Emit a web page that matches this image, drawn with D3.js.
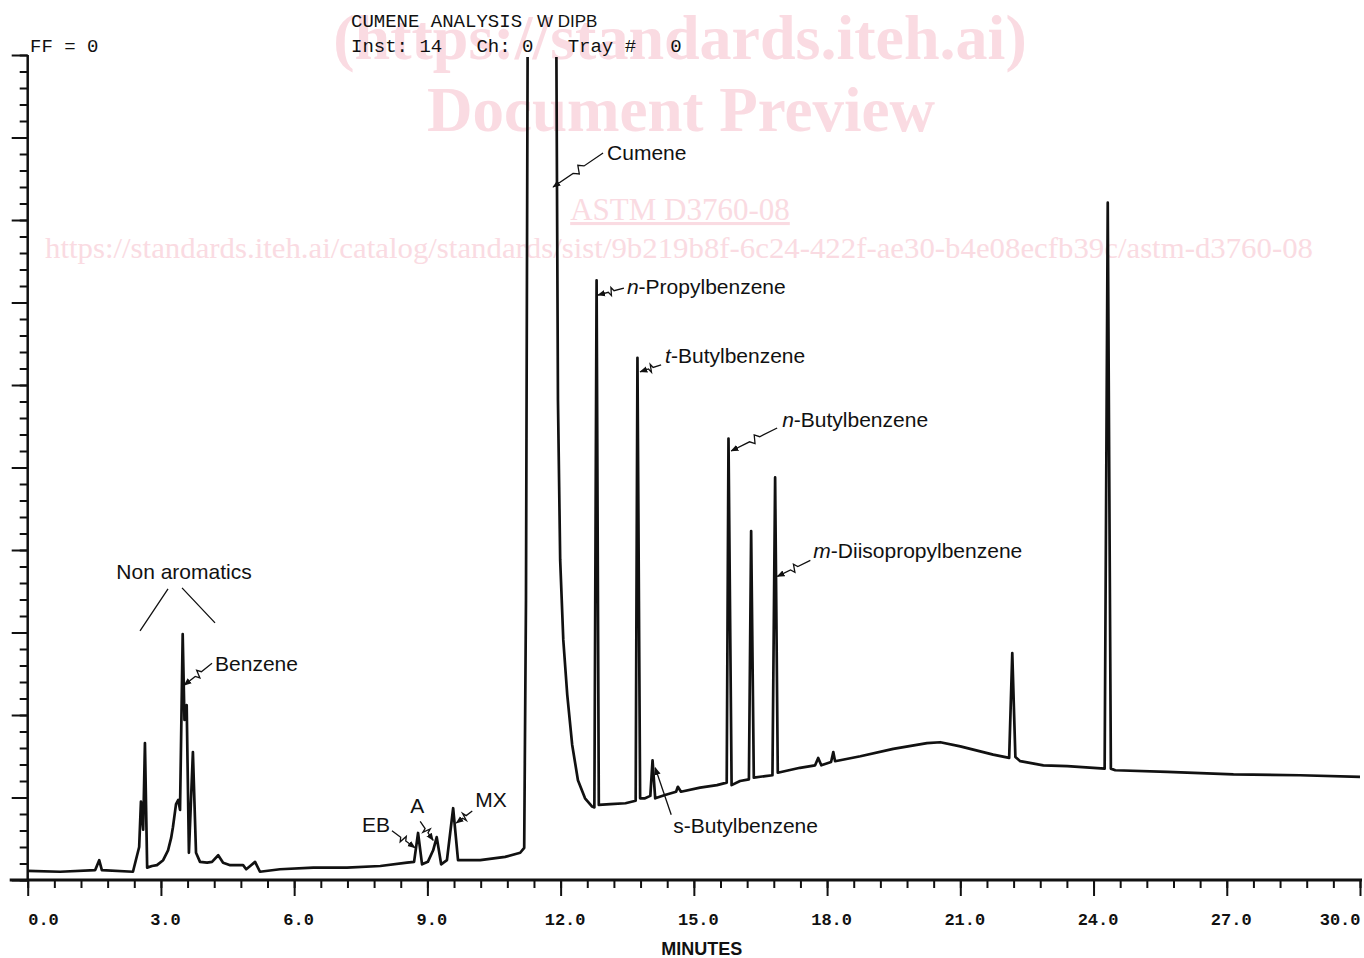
<!DOCTYPE html>
<html>
<head>
<meta charset="utf-8">
<script src="https://cdn.jsdelivr.net/npm/d3@7"></script>
<style>
  body { margin: 0; background: #fff; }
  svg { display: block; }
</style>
</head>
<body>
<svg id="chart" width="1364" height="958"></svg>
<script>
// chromatogram trace (minutes, % of full scale)
var retentionMin = [0.0, 0.73, 1.52, 1.61, 1.67, 2.37, 2.51, 2.55, 2.60, 2.64,
    2.69, 2.80, 2.91, 3.05, 3.16, 3.23, 3.27, 3.34, 3.39, 3.43,
    3.49, 3.53, 3.58, 3.63, 3.72, 3.79, 3.88, 4.04, 4.15, 4.29,
    4.40, 4.56, 4.85, 4.92, 5.01, 5.12, 5.23, 5.68, 6.43, 7.19,
    7.94, 8.54, 8.70, 8.79, 8.88, 9.01, 9.13, 9.21, 9.31, 9.44,
    9.58, 9.69, 10.19, 10.75, 11.09, 11.18, 11.22, 11.26, 11.90, 11.94,
    11.99, 12.06, 12.15, 12.26, 12.39, 12.55, 12.71, 12.76, 12.81, 12.86,
    13.12, 13.46, 13.69, 13.73, 13.79, 13.90, 14.02, 14.07, 14.13, 14.35,
    14.60, 14.64, 14.71, 15.14, 15.52, 15.74, 15.78, 15.85, 16.04, 16.24,
    16.29, 16.35, 16.61, 16.77, 16.83, 16.89, 17.39, 17.73, 17.80, 17.87,
    18.09, 18.14, 18.18, 18.75, 19.49, 20.25, 20.55, 21.00, 21.74, 22.10,
    22.17, 22.24, 22.35, 22.87, 23.41, 24.25, 24.32, 24.39, 24.49, 25.66,
    27.15, 28.65, 30.0];
var detectorPct = [1.1, 1.0, 1.2, 2.4, 1.2, 1.0, 4.0, 9.5, 6.1, 16.6,
    1.5, 1.7, 1.8, 2.4, 3.6, 5.1, 6.4, 9.2, 9.7, 8.5,
    29.8, 19.4, 21.2, 3.3, 15.5, 3.3, 2.2, 2.1, 2.2, 3.0,
    2.1, 1.8, 1.8, 1.3, 1.7, 2.2, 1.0, 1.3, 1.5, 1.5,
    1.7, 2.1, 2.2, 5.7, 1.9, 2.2, 3.6, 5.2, 1.9, 2.4,
    8.7, 2.4, 2.4, 2.8, 3.3, 3.9, 33.9, 106, 106, 58.2,
    38.8, 29.1, 22.4, 16.4, 12.1, 9.9, 8.9, 8.8, 72.7, 9.1,
    9.2, 9.3, 9.6, 63.3, 9.9, 9.9, 10.2, 14.5, 9.9, 10.3,
    10.7, 11.3, 10.7, 11.2, 11.5, 11.8, 53.5, 11.5, 12.0, 12.2,
    42.3, 12.4, 12.6, 12.7, 48.8, 13.0, 13.6, 13.9, 14.8, 13.9,
    14.3, 15.5, 14.4, 15.0, 15.9, 16.6, 16.7, 16.2, 15.2, 14.8,
    27.5, 14.9, 14.4, 13.9, 13.8, 13.5, 82.1, 13.5, 13.3, 13.1,
    12.8, 12.7, 12.5];

// x axis
var majorMinutes = [0, 3, 6, 9, 12, 15, 18, 21, 24, 27, 30];
var timeLabels = ['0.0', '3.0', '6.0', '9.0', '12.0', '15.0', '18.0', '21.0', '24.0', '27.0', '30.0'];

// peak annotations: where each arrow lands on the trace
var peakNames = ['Cumene', 'Propylbenzene', 'Butylbenzene', 'Butylbenzene', 'Diisopropylbenzene',
    's-Butylbenzene', 'Benzene', 'EB', 'A', 'MX'];
var peakPrefix = ['', 'n', 't', 'n', 'm', '', '', '', '', ''];
var arrowMin = [11.83, 12.84, 13.79, 15.84, 16.88, 14.13, 3.52, 8.72, 9.13, 9.65];
var arrowPct = [84.0, 70.9, 61.6, 52.0, 36.8, 13.6, 23.6, 3.9, 4.8, 6.9];

// header lines
var headerTitle = 'CUMENE ANALYSIS';
var headerMethod = 'W DIPB';
var headerInfo = 'Inst: 14   Ch: 0   Tray #   0';
var headerScale = 'FF = 0';

// label placement, pixel offsets from the arrow tip (text, leader start)
var labelLayout = [
    {tx: 54, ty: -27, lx: 50, ly: -34, zig: true},
    {tx: 29, ty: -1, lx: 26, ly: -7, zig: true},
    {tx: 25, ty: -9, lx: 21, ly: -7, zig: true},
    {tx: 51, ty: -24, lx: 46, ly: -23, zig: true},
    {tx: 36, ty: -18, lx: 33, ly: -16, zig: true},
    {tx: 18, ty: 65, lx: 16, ly: 47, zig: false},
    {tx: 31, ty: -14, lx: 28, ly: -22, zig: true},
    {tx: -53, ty: -16, lx: -23, ly: -17, zig: true},
    {tx: -23, ty: -27, lx: -13, ly: -19, zig: true},
    {tx: 19, ty: -16, lx: 16, ly: -12, zig: true}
];

var svg = d3.select('#chart');
var ink = '#111';

var x = d3.scaleLinear().domain([0, 30]).range([27.7, 1360]);
var y = d3.scaleLinear().domain([0, 100]).range([880, 55]);

// watermark sits behind everything
var wm = svg.append('g').attr('fill', '#fadbe2').attr('font-family', '"Liberation Serif", "DejaVu Serif", serif')
    .attr('text-anchor', 'middle');
wm.append('text').attr('x', 680).attr('y', 59).attr('font-size', 64).attr('font-weight', 'bold')
    .text('(https://standards.iteh.ai)');
wm.append('text').attr('x', 681).attr('y', 131).attr('font-size', 63).attr('font-weight', 'bold')
    .text('Document Preview');
wm.append('text').attr('x', 680).attr('y', 220).attr('font-size', 31).attr('text-decoration', 'underline')
    .text('ASTM D3760-08');
wm.append('text').attr('x', 679).attr('y', 258).attr('font-size', 29)
    .attr('textLength', 1268).attr('lengthAdjust', 'spacingAndGlyphs')
    .text('https://standards.iteh.ai/catalog/standards/sist/9b219b8f-6c24-422f-ae30-b4e08ecfb39c/astm-d3760-08');

var defs = svg.append('defs');
defs.append('clipPath').attr('id', 'plot-clip')
    .append('rect').attr('x', 0).attr('y', y(100) + 2).attr('width', 1364).attr('height', 958);
defs.append('marker').attr('id', 'arrow').attr('viewBox', '0 0 10 10')
    .attr('refX', 9).attr('refY', 5).attr('markerWidth', 8).attr('markerHeight', 8)
    .attr('markerUnits', 'userSpaceOnUse').attr('orient', 'auto')
    .append('path').attr('d', 'M0,1L10,5L0,9z').attr('fill', ink);

// axes
function styleAxis(g) {
    g.select('.domain').remove();
    g.selectAll('.tick line').attr('stroke', ink).attr('stroke-width', 2);
}

svg.append('g').attr('transform', 'translate(0,' + y(0) + ')')
    .call(d3.axisBottom(x).tickValues(d3.range(0, 30.001, 0.6)).tickSize(8).tickFormat(''))
    .call(styleAxis);

var xMajor = svg.append('g').attr('transform', 'translate(0,' + y(0) + ')')
    .call(d3.axisBottom(x).tickValues(majorMinutes).tickSize(16).tickPadding(17)
        .tickFormat(function(d, i) { return timeLabels[i]; }))
    .call(styleAxis);
xMajor.attr('font-family', '"Liberation Mono", "DejaVu Sans Mono", monospace').attr('font-size', 17).attr('font-weight', 'bold');
xMajor.selectAll('.tick text').attr('fill', ink)
    .attr('dx', function(d, i) { return i === 0 || i === majorMinutes.length - 1 ? 0 : 4; })
    .attr('text-anchor', function(d, i) {
        if (i === 0) return 'start';
        if (i === majorMinutes.length - 1) return 'end';
        return 'middle';
    });

svg.append('g').attr('transform', 'translate(' + x(0) + ',0)')
    .call(d3.axisLeft(y).tickValues(d3.range(0, 100.001, 2)).tickSize(8).tickFormat(''))
    .call(styleAxis);
svg.append('g').attr('transform', 'translate(' + x(0) + ',0)')
    .call(d3.axisLeft(y).tickValues(d3.range(0, 100.001, 10)).tickSize(16).tickFormat(''))
    .call(styleAxis);

svg.append('line').attr('x1', x(0) - 18).attr('x2', x(30) + 2)
    .attr('y1', y(0)).attr('y2', y(0)).attr('stroke', ink).attr('stroke-width', 3);
svg.append('line').attr('x1', x(0)).attr('x2', x(0))
    .attr('y1', y(100)).attr('y2', y(0)).attr('stroke', ink).attr('stroke-width', 2.5);

svg.append('text').attr('x', (x(0) + x(30)) / 2 + 8).attr('y', 955)
    .attr('text-anchor', 'middle').attr('font-family', '"Liberation Sans", Arial, sans-serif')
    .attr('font-size', 18).attr('font-weight', 'bold').attr('fill', ink)
    .text('MINUTES');

// plotter header
var mono = '"Liberation Mono", "DejaVu Sans Mono", monospace';
svg.append('text').attr('x', 351).attr('y', 27).attr('font-family', mono).attr('font-size', 19)
    .attr('fill', ink).text(headerTitle);
svg.append('text').attr('x', 537).attr('y', 27).attr('font-family', '"Liberation Sans", Arial, sans-serif')
    .attr('font-size', 17).attr('fill', ink).text(headerMethod);
svg.append('text').attr('x', 351).attr('y', 52).attr('font-family', mono).attr('font-size', 19)
    .attr('fill', ink).style('white-space', 'pre').text(headerInfo);
svg.append('text').attr('x', 30).attr('y', 52).attr('font-family', mono).attr('font-size', 19)
    .attr('fill', ink).style('white-space', 'pre').text(headerScale);

// trace
var trace = retentionMin.map(function(t, i) { return [t, detectorPct[i]]; });
var line = d3.line().x(function(d) { return x(d[0]); }).y(function(d) { return y(d[1]); });
svg.append('path').datum(trace).attr('clip-path', 'url(#plot-clip)')
    .attr('d', line).attr('fill', 'none').attr('stroke', ink)
    .attr('stroke-width', 2.7).attr('stroke-linejoin', 'round');

// annotations
function leaderPath(s, e, zig) {
    if (!zig) return 'M' + s + 'L' + e;
    var dx = e[0] - s[0], dy = e[1] - s[1];
    var len = Math.sqrt(dx * dx + dy * dy);
    var px = -dy / len * 4, py = dx / len * 4;
    function at(f, k) { return [s[0] + dx * f + px * k, s[1] + dy * f + py * k]; }
    return 'M' + s + 'L' + at(0.38, 0) + 'L' + at(0.46, 1) + 'L' + at(0.52, -1) + 'L' + at(0.6, 0) + 'L' + e;
}

var notes = svg.append('g').attr('font-family', '"Liberation Sans", Arial, sans-serif')
    .attr('font-size', 21).attr('fill', ink);

peakNames.forEach(function(name, i) {
    var tip = [x(arrowMin[i]), y(arrowPct[i])];
    var lay = labelLayout[i];
    notes.append('path')
        .attr('d', leaderPath([tip[0] + lay.lx, tip[1] + lay.ly], tip, lay.zig))
        .attr('fill', 'none').attr('stroke', ink).attr('stroke-width', 1.3)
        .attr('marker-end', 'url(#arrow)');
    var t = notes.append('text').attr('x', tip[0] + lay.tx).attr('y', tip[1] + lay.ty);
    if (peakPrefix[i]) {
        t.append('tspan').attr('font-style', 'italic').text(peakPrefix[i]);
        t.append('tspan').text('-' + name);
    } else {
        t.text(name);
    }
});

// "Non aromatics" bracket over the early peaks
var naX = x(3.52), naY = y(36.5);
notes.append('text').attr('x', naX).attr('y', naY).attr('text-anchor', 'middle').text('Non aromatics');
notes.append('path')
    .attr('d', 'M' + [naX - 16, naY + 10] + 'L' + [naX - 44, naY + 52] +
        'M' + [naX - 2, naY + 9] + 'L' + [naX + 31, naY + 44])
    .attr('fill', 'none').attr('stroke', ink).attr('stroke-width', 1.3);
</script>
</body>
</html>
